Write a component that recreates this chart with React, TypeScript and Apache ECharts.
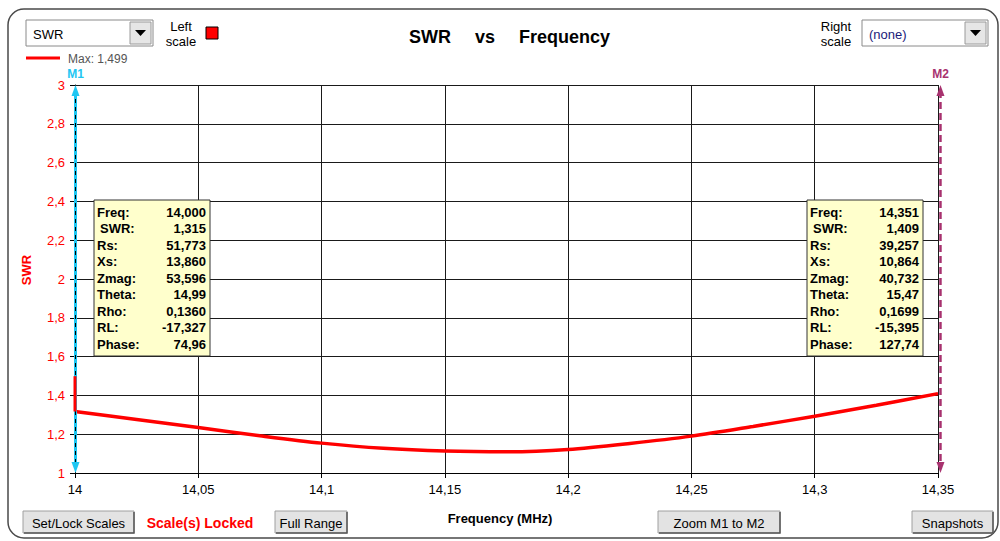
import React, { useEffect, useRef } from "react";
import * as echarts from "echarts";

const freqs = [14.0, 14.025, 14.05, 14.075, 14.1, 14.125, 14.15, 14.175, 14.2, 14.225, 14.25, 14.275, 14.3, 14.325, 14.35];
const swr = [1.317, 1.276, 1.234, 1.192, 1.154, 1.127, 1.113, 1.109, 1.121, 1.152, 1.19, 1.24, 1.293, 1.349, 1.409];
const spikeFreqs = [14.0, 14.0];
const spikeSwr = [1.499, 1.317];
const markerFreqs = [14.0, 14.351];
const markerNames = ["M1", "M2"];
const markerColors = ["#1ec6f2", "#a8326f"];
const infoLabels = ["Freq:", " SWR:", "Rs:", "Xs:", "Zmag:", "Theta:", "Rho:", "RL:", "Phase:"];
const infoM1 = ["14,000", "1,315", "51,773", "13,860", "53,596", "14,99", "0,1360", "-17,327", "74,96"];
const infoM2 = ["14,351", "1,409", "39,257", "10,864", "40,732", "15,47", "0,1699", "-15,395", "127,74"];
const buttons = [
  { text: "Set/Lock Scales", x: 23, w: 111 },
  { text: "Full Range", x: 275, w: 72 },
  { text: "Zoom M1 to M2", x: 658, w: 122 },
  { text: "Snapshots", x: 912, w: 81 },
];

const FONT = "'Liberation Sans', Arial, sans-serif";
const fmt = (v: number) => String(+v.toFixed(3)).replace(".", ",");

function button(b: { text: string; x: number; w: number }) {
  const y = 511, h = 22;
  return {
    type: "group",
    children: [
      { type: "rect", shape: { x: b.x, y, width: b.w, height: h }, style: { fill: "#e3e3e3", stroke: "#a0a0a0", lineWidth: 1 } },
      { type: "polyline", shape: { points: [[b.x + 1, y + h], [b.x + b.w, y + h], [b.x + b.w, y + 1]] }, style: { stroke: "#555", lineWidth: 1.5, fill: null } },
      { type: "text", x: b.x + b.w / 2, y: y + h / 2 + 1, style: { text: b.text, align: "center", verticalAlign: "middle", font: `13px ${FONT}`, fill: "#000" } },
    ],
  };
}

function dropdown(x: number, w: number, text: string, color: string) {
  const y = 20, h = 26;
  const bx = x + w - 23;
  return {
    type: "group",
    children: [
      { type: "rect", shape: { x, y, width: w, height: h }, style: { fill: "#fff", stroke: "#8a8a8a", lineWidth: 1 } },
      { type: "text", x: x + 7, y: y + h / 2 + 1, style: { text, verticalAlign: "middle", font: `13px ${FONT}`, fill: color } },
      { type: "rect", shape: { x: bx, y: y + 2, width: 21, height: h - 4 }, style: { fill: "#e6e6e6", stroke: "#9a9a9a", lineWidth: 1 } },
      { type: "polygon", shape: { points: [[bx + 5, y + 10], [bx + 16, y + 10], [bx + 10.5, y + 16]] }, style: { fill: "#000" } },
    ],
  };
}

function infoBox(x: number, values: string[]) {
  const y = 200, w = 116, h = 156;
  const children: any[] = [
    { type: "rect", z: 100, shape: { x, y, width: w, height: h }, style: { fill: "#ffffcc", stroke: "#333", lineWidth: 1 } },
  ];
  infoLabels.forEach((lab, i) => {
    const ty = y + 12 + i * 16.5;
    children.push({ type: "text", z: 101, x: x + (lab.startsWith(" ") ? 6 : 3), y: ty, style: { text: lab.trim(), verticalAlign: "middle", font: `bold 13px ${FONT}`, fill: "#000" } });
    children.push({ type: "text", z: 101, x: x + w - 4, y: ty, style: { text: values[i], align: "right", verticalAlign: "middle", font: `bold 13px ${FONT}`, fill: "#000" } });
  });
  return { type: "group", children };
}

export default function App() {
  const ref = useRef<HTMLDivElement>(null);
  useEffect(() => {
    if (!ref.current) return;
    const chart = echarts.init(ref.current, null, { renderer: "svg" });
    const data = freqs.map((f, i) => [f, swr[i]]);
    const spike = spikeFreqs.map((f, i) => [f, spikeSwr[i]]);
    const baseGraphic: any[] = [
      { type: "rect", shape: { x: 8, y: 9, width: 990, height: 529, r: 16 }, style: { fill: null, stroke: "#4a4a4a", lineWidth: 1.5 }, silent: true },
      dropdown(26, 127, "SWR", "#000"),
      dropdown(862, 126, "(none)", "#1a1a7a"),
      { type: "text", x: 181, y: 34, style: { text: "Left\nscale", align: "center", verticalAlign: "middle", font: `13px ${FONT}`, fill: "#000", lineHeight: 15 } },
      { type: "rect", shape: { x: 206, y: 27, width: 12, height: 12 }, style: { fill: "#ff0000", stroke: "#000", lineWidth: 1 } },
      { type: "text", x: 836, y: 34, style: { text: "Right\nscale", align: "center", verticalAlign: "middle", font: `13px ${FONT}`, fill: "#000", lineHeight: 15 } },
      { type: "line", shape: { x1: 26, y1: 58, x2: 60, y2: 58 }, style: { stroke: "#ff0000", lineWidth: 3 } },
      { type: "text", x: 68, y: 59, style: { text: "Max: 1,499", verticalAlign: "middle", font: `12px ${FONT}`, fill: "#555" } },
      { type: "text", x: 409, y: 37, style: { text: "SWR", verticalAlign: "middle", font: `bold 18px ${FONT}`, fill: "#000" } },
      { type: "text", x: 475, y: 37, style: { text: "vs", verticalAlign: "middle", font: `bold 18px ${FONT}`, fill: "#000" } },
      { type: "text", x: 519, y: 37, style: { text: "Frequency", verticalAlign: "middle", font: `bold 18px ${FONT}`, fill: "#000" } },
      { type: "text", x: 26, y: 270, rotation: Math.PI / 2, style: { text: "SWR", align: "center", verticalAlign: "middle", font: `bold 13px ${FONT}`, fill: "#ff0000" } },
      { type: "text", x: 500, y: 518, style: { text: "Frequency (MHz)", align: "center", verticalAlign: "middle", font: `bold 13px ${FONT}`, fill: "#000" } },
      { type: "text", x: 200, y: 523, style: { text: "Scale(s) Locked", align: "center", verticalAlign: "middle", font: `bold 14px ${FONT}`, fill: "#ff0000" } },
      ...buttons.map(button),
    ];
    chart.setOption({
      animation: false,
      backgroundColor: "#fff",
      grid: { left: 75, top: 85, width: 863, height: 388, show: false },
      xAxis: {
        type: "value",
        min: 14,
        max: 14.35,
        interval: 0.05,
        axisLine: { show: true, lineStyle: { color: "#000", width: 1 } },
        axisTick: { show: true, length: 5, lineStyle: { color: "#000" } },
        axisLabel: { formatter: fmt, color: "#000", fontSize: 13, fontFamily: FONT, margin: 10 },
        splitLine: { show: true, lineStyle: { color: "#1a1a1a", width: 1 } },
      },
      yAxis: {
        type: "value",
        min: 1,
        max: 3,
        interval: 0.2,
        axisLine: { show: true, lineStyle: { color: "#000", width: 1 } },
        axisTick: { show: true, length: 5, lineStyle: { color: "#000" } },
        axisLabel: { formatter: fmt, color: "#ff0000", fontSize: 13, fontFamily: FONT, margin: 10 },
        splitLine: { show: true, lineStyle: { color: "#1a1a1a", width: 1 } },
      },
      series: [
        {
          type: "line",
          data,
          smooth: 0.3,
          showSymbol: false,
          clip: false,
          lineStyle: { color: "#ff0000", width: 3.5 },
          z: 3,
        },
        {
          type: "line",
          data: spike,
          showSymbol: false,
          clip: false,
          lineStyle: { color: "#ff0000", width: 3 },
          z: 60,
        },
      ],
      graphic: baseGraphic,
    });

    const yTop = chart.convertToPixel({ yAxisIndex: 0 }, 3) as number;
    const yBot = chart.convertToPixel({ yAxisIndex: 0 }, 1) as number;
    const markerGraphic: any[] = [];
    markerFreqs.forEach((f, i) => {
      const x = (chart.convertToPixel({ xAxisIndex: 0 }, f) as number) + (i === 0 ? 0.5 : 0);
      const c = markerColors[i];
      if (i === 0) {
        markerGraphic.push({ type: "line", z: 50, shape: { x1: x, y1: yTop + 6, x2: x, y2: yBot - 6 }, style: { stroke: c, lineWidth: 3 } });
        markerGraphic.push({ type: "line", z: 51, shape: { x1: x, y1: yTop + 6, x2: x, y2: yBot - 6 }, style: { stroke: "#000", lineWidth: 1, lineDash: [4, 4] } });
      } else {
        markerGraphic.push({ type: "line", z: 50, shape: { x1: x, y1: yTop + 6, x2: x, y2: yBot - 6 }, style: { stroke: c, lineWidth: 2.5, lineDash: [7, 4] } });
      }
      markerGraphic.push({ type: "polygon", z: 52, shape: { points: [[x, yTop], [x - 4, yTop + 11], [x + 4, yTop + 11]] }, style: { fill: c } });
      markerGraphic.push({ type: "polygon", z: 52, shape: { points: [[x, yBot], [x - 4, yBot - 11], [x + 4, yBot - 11]] }, style: { fill: c } });
      markerGraphic.push({ type: "text", z: 52, x, y: yTop - 11, style: { text: markerNames[i], align: "center", verticalAlign: "middle", font: `bold 12px ${FONT}`, fill: c } });
    });
    chart.setOption({ graphic: [...baseGraphic, ...markerGraphic, infoBox(94, infoM1), infoBox(807, infoM2)] });
    return () => chart.dispose();
  }, []);
  return <div ref={ref} style={{ position: "fixed", left: 0, top: 0, width: 1000, height: 541 }} />;
}
